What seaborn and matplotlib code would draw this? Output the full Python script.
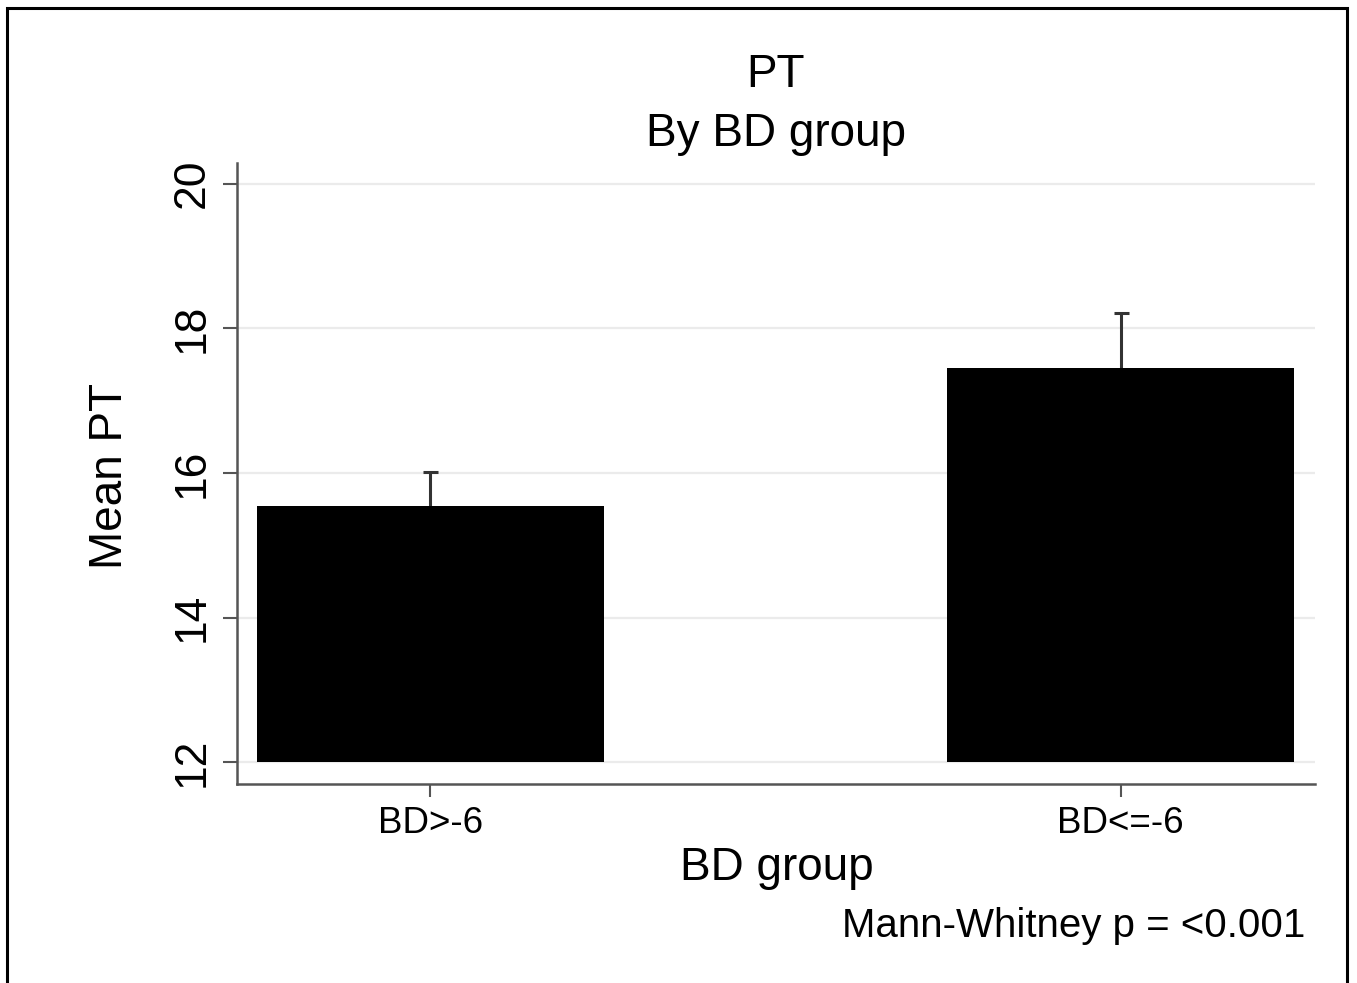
import matplotlib
matplotlib.use("Agg")
import matplotlib.pyplot as plt
import seaborn as sns
import pandas as pd
import numpy as np
from matplotlib.patches import Rectangle

# ---- data ----
groups = ["BD>-6", "BD<=-6"]
mean_pt = [15.54, 17.45]
upper_pt = [16.01, 18.21]
y_ticks = [12, 14, 16, 18, 20]
bar_base = 12

sns.set_theme(style="white")
plt.rcParams["font.family"] = ["Liberation Sans", "DejaVu Sans"]

fig = plt.figure(figsize=(13.57, 9.83), dpi=100)
ax = fig.add_axes([0.1749, 0.2024, 0.7944, 0.6314])

df = pd.DataFrame({"group": groups, "mean": mean_pt})
sns.barplot(data=df, x="group", y="mean", color="black", width=0.503,
            errorbar=None, ax=ax, saturation=1, edgecolor="black", linewidth=0)

# bars start at the base value (Stata-style)
for p, v in zip(ax.patches, mean_pt):
    p.set_y(bar_base)
    p.set_height(v - bar_base)
    p.set_zorder(2)

# one-sided upper error bars
xs = list(range(len(groups)))
err_up = [u - m for u, m in zip(upper_pt, mean_pt)]
eb = ax.errorbar(xs, mean_pt, yerr=[[0] * len(xs), err_up], fmt="none",
                 ecolor="#333333", elinewidth=2.2, capsize=5.4, capthick=2.2,
                 zorder=1.5)
for cl in eb[1]:
    if np.allclose(cl.get_ydata(), mean_pt):
        cl.set_visible(False)

ax.set_ylim(11.70, 20.28)
ax.set_xlim(-0.2796, 1.2818)
ax.set_yticks(y_ticks)
ax.set_yticklabels([str(t) for t in y_ticks], rotation=90, va="center")
ax.yaxis.grid(True, color="#ebebeb", linewidth=1.6)
ax.set_axisbelow(True)

for s in ["top", "right"]:
    ax.spines[s].set_visible(False)
for s in ["left", "bottom"]:
    ax.spines[s].set_color("#555555")
    ax.spines[s].set_linewidth(1.8)

ax.tick_params(axis="y", which="major", left=True, length=10, width=1.5,
               color="#555555", pad=8, labelsize=32, labelcolor="black")
ax.tick_params(axis="x", which="major", bottom=True, length=9, width=1.5,
               color="#555555", pad=7, labelsize=26.5, labelcolor="black")

ax.set_xlabel("BD group", fontsize=33, color="black")
ax.xaxis.label.set_va("baseline")
ax.xaxis.set_label_coords(0.5, -0.1543)
ax.set_ylabel("Mean PT", fontsize=33, color="black")
ax.yaxis.label.set_va("baseline")
ax.yaxis.set_label_coords(-0.1067, 0.497)

# titles
fig.text(776 / 1357, 1 - 87 / 983, "PT", ha="center", va="baseline",
         fontsize=33, color="black")
fig.text(776 / 1357, 1 - 146.5 / 983, "By BD group", ha="center",
         va="baseline", fontsize=33, color="black")

# note
fig.text(1305 / 1357, 1 - 937 / 983, "Mann-Whitney p = <0.001", ha="right",
         va="baseline", fontsize=29, color="black")

# outer border
fig.patches.append(Rectangle((7 / 1357, -0.05), 1340 / 1357, 1.05 - 8 / 983,
                             transform=fig.transFigure, fill=False,
                             edgecolor="black", linewidth=2.2, zorder=10))

fig.savefig("out.png", dpi=100, facecolor="white")
